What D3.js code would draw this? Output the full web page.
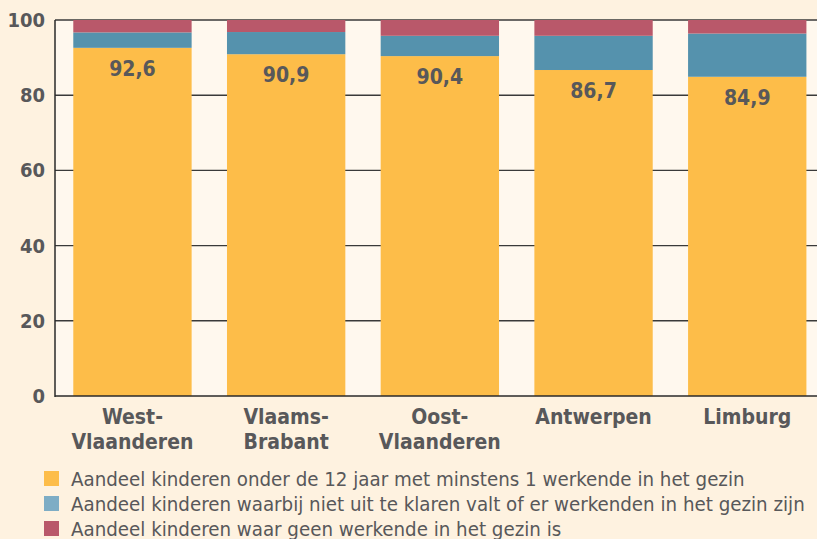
<!DOCTYPE html>
<html>
<head>
<meta charset="utf-8">
<script src="https://cdn.jsdelivr.net/npm/d3@7"></script>
<style>
  html, body { margin: 0; padding: 0; background: #fef2e0; overflow: hidden; }
  svg { display: block; }
  .tick-label, .cat-label, .bar-label {
    font-family: "DejaVu Sans Condensed", "Liberation Sans Narrow", "DejaVu Sans", sans-serif;
    font-stretch: condensed;
    font-weight: bold;
    fill: #58585a;
  }
  .legend-text {
    font-family: "DejaVu Sans Condensed", "Liberation Sans Narrow", "DejaVu Sans", sans-serif;
    font-stretch: condensed;
    fill: #58585a;
  }
</style>
</head>
<body>
<svg id="chart" width="817" height="539"></svg>
<script>
  const provinces = [['West-', 'Vlaanderen'], ['Vlaams-', 'Brabant'], ['Oost-', 'Vlaanderen'], ['Antwerpen'], ['Limburg']];
  const categories = ['West-Vlaanderen', 'Vlaams-Brabant', 'Oost-Vlaanderen', 'Antwerpen', 'Limburg'];
  const metWerkende = [92.6, 90.9, 90.4, 86.7, 84.9];
  const onduidelijk = [4.1, 5.9, 5.4, 9.1, 11.5];
  const geenWerkende = [3.3, 3.2, 4.2, 4.2, 3.6];
  const yTicks = [0, 20, 40, 60, 80, 100];
  const legendLabels = [
    'Aandeel kinderen onder de 12 jaar met minstens 1 werkende in het gezin',
    'Aandeel kinderen waarbij niet uit te klaren valt of er werkenden in het gezin zijn',
    'Aandeel kinderen waar geen werkende in het gezin is'
  ];
  const barColors = ['#fdbd49', '#5592ad', '#b9586a'];
  const swatchColors = ['#fdbd49', '#7eadc5', '#b9586a'];

  const svg = d3.select('#chart');
  const plotLeft = 55, plotTop = 20, plotBottom = 396, plotRight = 824.7;

  const x = d3.scaleBand()
    .domain(categories)
    .range([plotLeft, plotRight])
    .paddingInner(0.23)
    .paddingOuter(0.119);
  const y = d3.scaleLinear().domain([0, 100]).range([plotBottom, plotTop]);

  // plot background
  svg.append('rect')
    .attr('x', plotLeft).attr('y', plotTop)
    .attr('width', plotRight - plotLeft).attr('height', plotBottom - plotTop)
    .attr('fill', '#fff8ee');

  // gridlines
  svg.append('g')
    .selectAll('line')
    .data(yTicks.filter(d => d > 0))
    .enter()
    .append('line')
    .attr('x1', plotLeft).attr('x2', plotRight)
    .attr('y1', d => y(d)).attr('y2', d => y(d))
    .attr('stroke', '#3a3a3a')
    .attr('stroke-width', 1.4);

  // stacked bars
  const rows = categories.map((c, i) => ({
    cat: c, a: metWerkende[i], b: onduidelijk[i], c: geenWerkende[i]
  }));
  const stack = d3.stack().keys(['a', 'b', 'c'])(rows);
  svg.append('g')
    .selectAll('g')
    .data(stack)
    .enter()
    .append('g')
    .attr('fill', (d, i) => barColors[i])
    .selectAll('rect')
    .data(d => d)
    .enter()
    .append('rect')
    .attr('x', d => x(d.data.cat))
    .attr('width', x.bandwidth())
    .attr('y', d => y(d[1]))
    .attr('height', d => y(d[0]) - y(d[1]));

  // value labels
  svg.append('g')
    .selectAll('text')
    .data(rows)
    .enter()
    .append('text')
    .attr('class', 'bar-label')
    .attr('x', d => x(d.cat) + x.bandwidth() / 2)
    .attr('y', d => y(d.a) + 28)
    .attr('text-anchor', 'middle')
    .attr('font-size', 21)
    .text(d => d3.format('.1f')(d.a).replace('.', ','));

  // axes frame
  svg.append('line')
    .attr('x1', plotLeft).attr('x2', plotLeft).attr('y1', plotTop).attr('y2', plotBottom + 1)
    .attr('stroke', '#2a2a2a').attr('stroke-width', 1.5);
  svg.append('line')
    .attr('x1', plotLeft).attr('x2', plotRight).attr('y1', plotBottom).attr('y2', plotBottom)
    .attr('stroke', '#2a2a2a').attr('stroke-width', 1.5);

  // y tick labels
  svg.append('g')
    .selectAll('text')
    .data(yTicks)
    .enter()
    .append('text')
    .attr('class', 'tick-label')
    .attr('x', 45)
    .attr('y', d => y(d) + 7)
    .attr('text-anchor', 'end')
    .attr('font-size', 20)
    .text(d => d);

  // category labels
  svg.append('g')
    .selectAll('text')
    .data(categories)
    .enter()
    .append('text')
    .attr('class', 'cat-label')
    .attr('x', d => x(d) + x.bandwidth() / 2)
    .attr('y', 424)
    .attr('text-anchor', 'middle')
    .attr('font-size', 21)
    .selectAll('tspan')
    .data((d, i) => provinces[i])
    .enter()
    .append('tspan')
    .attr('x', function () { return this.parentNode.getAttribute('x'); })
    .attr('dy', (d, i) => i === 0 ? 0 : 24.5)
    .text(d => d);

  // legend
  const legend = svg.append('g')
    .selectAll('g')
    .data(legendLabels)
    .enter()
    .append('g')
    .attr('transform', (d, i) => `translate(44, ${471 + i * 25})`);
  legend.append('rect')
    .attr('width', 15).attr('height', 15)
    .attr('fill', (d, i) => swatchColors[i]);
  legend.append('text')
    .attr('class', 'legend-text')
    .attr('x', 27)
    .attr('y', 15)
    .attr('font-size', 20.3)
    .text(d => d);
</script>
</body>
</html>
